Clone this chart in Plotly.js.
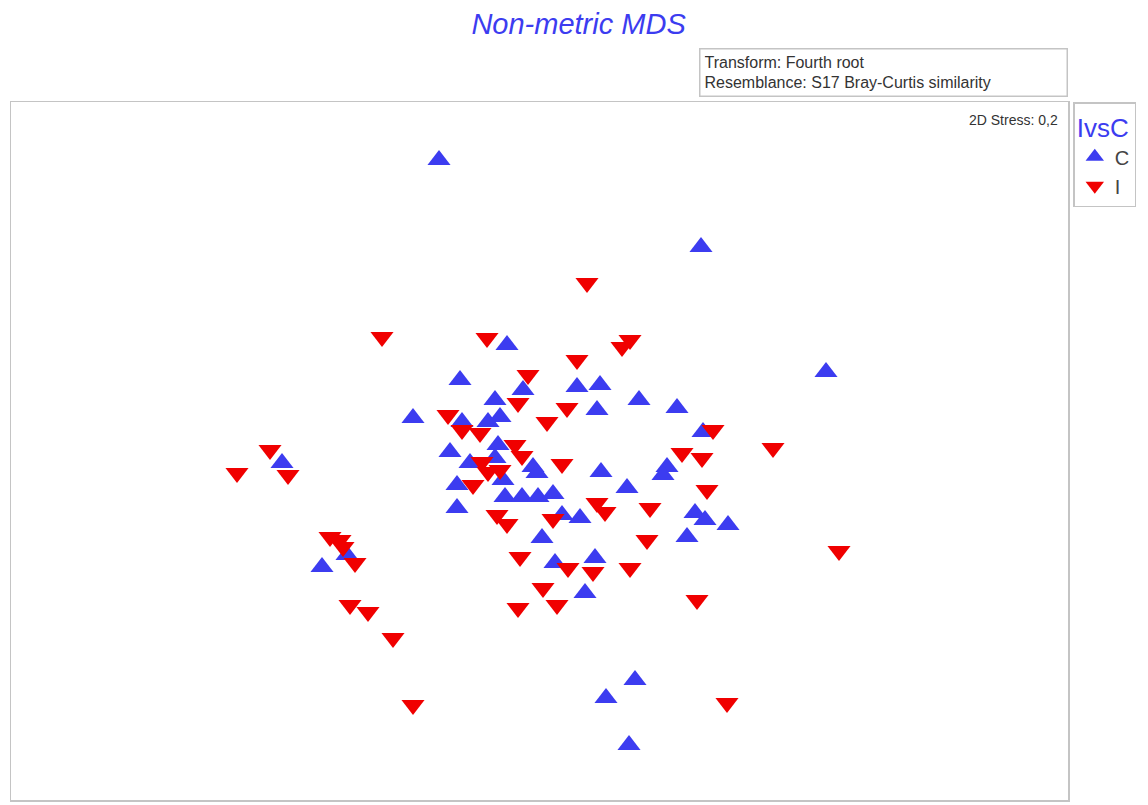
<!DOCTYPE html>
<html>
<head>
<meta charset="utf-8">
<script src="https://cdn.plot.ly/plotly-3.0.1.min.js"></script>
<style>html,body{margin:0;padding:0;background:#fff;}#chart{width:1148px;height:805px;}</style>
</head>
<body>
<div id="chart"></div>
<script>
// MDS ordination coordinates (arbitrary units; y grows downward)
const groupNames = ["C", "I"];
const cX = [439, 701, 826, 507, 460, 523, 577, 600, 597, 639, 677, 413, 495, 462, 488, 500,
            498, 450, 470, 495, 533, 537, 457, 503, 505, 522, 538, 553, 457, 562, 601, 627,
            580, 542, 555, 595, 585, 703, 667, 663, 695, 705, 728, 687, 282, 347, 322, 606,
            635, 629];
const cY = [160, 247, 372, 345, 380, 390, 387, 385, 410, 400, 408, 418, 400, 422, 422, 417,
            445, 452, 463, 458, 467, 473, 485, 480, 497, 497, 497, 494, 508, 515, 472, 488,
            518, 538, 563, 558, 593, 432, 467, 475, 513, 520, 525, 537, 463, 555, 567, 698,
            680, 745];
const iX = [587, 630, 622, 577, 487, 528, 518, 448, 462, 480, 547, 567, 515, 522, 562, 482,
            488, 473, 500, 497, 507, 553, 597, 605, 650, 647, 520, 568, 593, 630, 543, 557,
            518, 713, 773, 682, 702, 707, 382, 270, 288, 237, 330, 340, 343, 355, 350, 368,
            393, 413, 727, 697, 839];
const iY = [283, 340, 347, 360, 338, 375, 403, 415, 430, 433, 422, 408, 445, 456, 464, 462,
            472, 485, 470, 515, 524, 519, 503, 512, 508, 540, 557, 568, 572, 568, 588, 605,
            608, 430, 448, 453, 458, 490, 337, 450, 475, 473, 537, 540, 547, 563, 605, 612,
            638, 705, 703, 600, 551];

const blue = "rgb(60,60,240)";
const red = "rgb(240,0,0)";

const traces = [
  {x: cX, y: cY, name: groupNames[0], type: "scatter", mode: "markers",
   marker: {symbol: "triangle-up", size: 20, color: blue, line: {width: 0}}},
  {x: iX, y: iY, name: groupNames[1], type: "scatter", mode: "markers",
   marker: {symbol: "triangle-down", size: 20, color: red, line: {width: 0}}}
];

const axisCommon = {showgrid: false, zeroline: false, showticklabels: false, ticks: "",
                    showline: true, mirror: true, linecolor: "#c4c4c4", linewidth: 1.5};

const layout = {
  width: 1148, height: 805,
  margin: {l: 11, r: 80, t: 102, b: 5},
  paper_bgcolor: "#fff", plot_bgcolor: "#fff",
  font: {family: "Arial, 'Liberation Sans', sans-serif", color: "#333"},
  title: {text: "<i>Non-metric MDS</i>", font: {size: 29, color: "rgb(60,60,240)"},
          xref: "container", x: 0.504, xanchor: "center", yref: "container", y: 0.97, yanchor: "middle"},
  xaxis: Object.assign({range: [11, 1068]}, axisCommon),
  yaxis: Object.assign({range: [800, 102]}, axisCommon),
  showlegend: true,
  legend: {x: 1.005, xanchor: "left", y: 1, yanchor: "top",
           bordercolor: "#c4c4c4", borderwidth: 1.5, bgcolor: "#fff",
           title: {text: "IvsC", font: {size: 26, color: "rgb(60,60,240)"}},
           font: {size: 20, color: "#444"}, itemwidth: 30, tracegroupgap: 0},
  annotations: [
    {xref: "paper", yref: "paper", x: 1, xanchor: "right", y: 1.007, yanchor: "bottom",
     text: "Transform: Fourth root<br>Resemblance: S17 Bray-Curtis similarity",
     align: "left", showarrow: false, font: {size: 16, color: "#333"},
     bordercolor: "#c4c4c4", borderwidth: 1.5, borderpad: 4, width: 358, bgcolor: "#fff"},
    {xref: "paper", yref: "paper", x: 1, xanchor: "right", xshift: -8,
     y: 1 - 18 / 698, yanchor: "middle",
     text: "2D Stress: 0,2", showarrow: false, font: {size: 14, color: "#333"}}
  ]
};

Plotly.newPlot("chart", traces, layout, {displayModeBar: false, staticPlot: true});
</script>
</body>
</html>
